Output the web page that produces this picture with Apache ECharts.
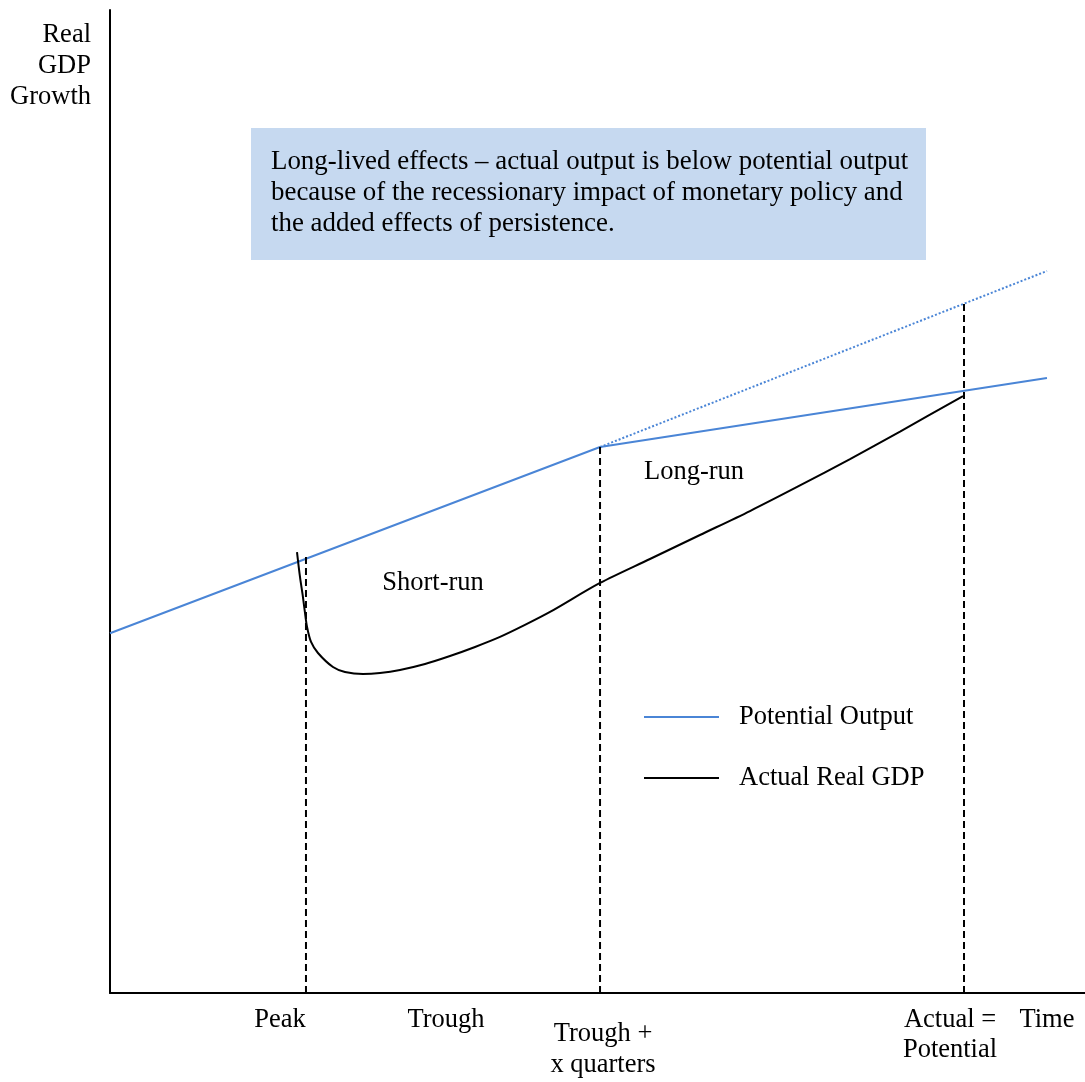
<!DOCTYPE html>
<html>
<head>
<meta charset="utf-8">
<script src="https://cdn.jsdelivr.net/npm/echarts@6/dist/echarts.min.js"></script>
<style>html,body{margin:0;padding:0;background:#fff}#c{width:1085px;height:1082px}</style>
</head>
<body>
<div id="c"></div>
<script>
// Data (arbitrary units: time 0..100, output 0..100)
const potentialOutput = [[0, 36.6], [50.26, 55.54], [96.1, 62.56]];
const potentialTrend = [[50.26, 55.54], [96.1, 73.45]];
const actualGDP = [
  [19.18, 44.86], [19.49, 42.3], [19.79, 40.28], [20.0, 38.66], [20.21, 37.23],
  [20.62, 35.71], [21.33, 34.59], [22.87, 33.16], [24.10, 32.66], [25.95, 32.45],
  [27.69, 32.55], [29.74, 32.86], [32.31, 33.47], [34.87, 34.28], [37.44, 35.20],
  [40.0, 36.22], [42.56, 37.44], [45.13, 38.76],
  [50.26, 41.71], [55.38, 44.15], [60.51, 46.59], [65.64, 49.03], [70.77, 51.63],
  [75.9, 54.32], [81.03, 57.12], [87.49, 60.73]
];
const markerTimes = [20.1, 50.26, 87.59];
const markerTops = [44.35, 55.54, 70.5];
const seriesNames = ['Potential Output', 'Actual Real GDP'];
const yTitle = ['Real', 'GDP', 'Growth'];
const boxText = 'Long-lived effects – actual output is below potential output\nbecause of the recessionary impact of monetary policy and\nthe added effects of persistence.';

const FONT = '"Liberation Serif", "Times New Roman", serif';
const FS = 26.5;
const BLUE = '#4a85d6';

const chart = echarts.init(document.getElementById('c'), null, {renderer: 'canvas'});

const dashedSeries = markerTimes.map((t, i) => ({
  type: 'line',
  data: [[t, 0], [t, markerTops[i]]],
  symbol: 'none',
  silent: true,
  lineStyle: {color: '#000', width: 2, type: [7, 4]},
  z: 5
}));

function txt(text, x, y, align) {
  return {
    type: 'text', x: x, y: y,
    style: {text: text, font: FS + 'px ' + FONT, fill: '#000', align: align || 'center', verticalAlign: 'middle'}
  };
}

chart.setOption({
  animation: false,
  backgroundColor: '#fff',
  grid: {left: 110, right: 0, top: 10, bottom: 89, containLabel: false},
  xAxis: {
    type: 'value', min: 0, max: 100,
    axisLine: {show: true, onZero: false, lineStyle: {color: '#000', width: 2}},
    axisTick: {show: false}, axisLabel: {show: false}, splitLine: {show: false}
  },
  yAxis: {
    type: 'value', min: 0, max: 100,
    axisLine: {show: true, onZero: false, lineStyle: {color: '#000', width: 2}},
    axisTick: {show: false}, axisLabel: {show: false}, splitLine: {show: false}
  },
  legend: {
    data: seriesNames,
    orient: 'vertical',
    left: 639, top: 697,
    icon: 'rect',
    itemWidth: 75, itemHeight: 2,
    itemGap: 31,
    textStyle: {fontFamily: FONT, fontSize: FS, lineHeight: 30, color: '#000', padding: [0, 0, 0, 15]}
  },
  series: [
    {
      name: seriesNames[0], type: 'line', data: potentialOutput, symbol: 'none',
      lineStyle: {color: BLUE, width: 2}, itemStyle: {color: BLUE}, z: 3
    },
    {
      name: 'trend', type: 'line', data: potentialTrend, symbol: 'none',
      lineStyle: {color: BLUE, width: 2, type: [2, 2]}, z: 3
    },
    {
      name: seriesNames[1], type: 'line', data: actualGDP, symbol: 'none',
      smooth: 0.3,
      lineStyle: {color: '#000', width: 2}, itemStyle: {color: '#000'}, z: 4
    }
  ].concat(dashedSeries),
  graphic: [
    {type: 'rect', shape: {x: 251, y: 128, width: 675, height: 132}, style: {fill: '#c6d9f0'}, z: 1},
    {type: 'text', x: 271, y: 146,
      style: {text: boxText, font: '26.9px ' + FONT, fill: '#000', lineHeight: 31, align: 'left', verticalAlign: 'top'}, z: 2},
    txt(yTitle[0], 91, 35, 'right'),
    txt(yTitle[1], 91, 66, 'right'),
    txt(yTitle[2], 91, 97, 'right'),
    txt('Short-run', 433, 583),
    txt('Long-run', 694, 472),
    txt('Peak', 280, 1020),
    txt('Trough', 446, 1020),
    txt('Trough +', 603, 1034),
    txt('x quarters', 603, 1065),
    txt('Actual =', 950, 1020),
    txt('Potential', 950, 1050),
    txt('Time', 1047, 1020)
  ]
});
</script>
</body>
</html>
